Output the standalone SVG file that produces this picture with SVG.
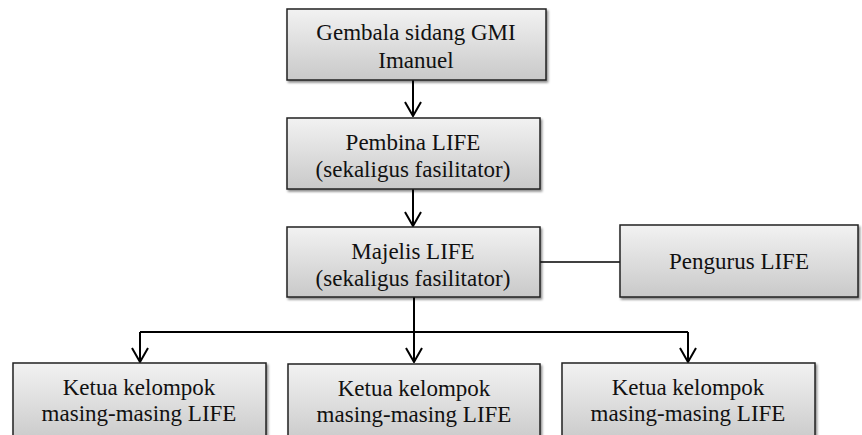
<svg xmlns="http://www.w3.org/2000/svg" width="862" height="435" viewBox="0 0 862 435">
<defs>
<linearGradient id="g" x1="0" y1="0" x2="0" y2="1">
<stop offset="0" stop-color="#f2f2f2"/>
<stop offset="1" stop-color="#c9c9c9"/>
</linearGradient>
<filter id="sh" x="-10%" y="-10%" width="120%" height="130%">
<feDropShadow dx="1.5" dy="2" stdDeviation="1.2" flood-color="#000" flood-opacity="0.45"/>
</filter>
<marker id="ah" viewBox="0 0 16 18" refX="15" refY="9" markerWidth="16" markerHeight="18" markerUnits="userSpaceOnUse" orient="auto">
<path d="M1 1 L15 9 L1 17" fill="none" stroke="#000" stroke-width="2"/>
</marker>
<style>
.box{fill:url(#g);stroke:#222;stroke-width:1.5;filter:url(#sh)}
.t{font-family:"Liberation Serif",serif;font-size:23px;fill:#111;text-anchor:middle}
.c{fill:none;stroke:#000;stroke-width:2}
</style>
</defs>
<rect width="862" height="435" fill="#fff"/>
<g id="connectors">
<path class="c" d="M413 80 V116" marker-end="url(#ah)"/>
<path class="c" d="M413 189 V226" marker-end="url(#ah)"/>
<path class="c" d="M540 262 H620" style="stroke-width:1.5"/>
<path class="c" d="M414 297 V362" marker-end="url(#ah)"/>
<path class="c" d="M140 332 H688"/>
<path class="c" d="M140 332 V362" marker-end="url(#ah)"/>
<path class="c" d="M688 332 V362" marker-end="url(#ah)"/>
</g>
<g id="gembala">
<rect class="box" x="287" y="9" width="259" height="71"/>
<text class="t" x="416" y="40">Gembala sidang GMI</text>
<text class="t" x="416" y="68">Imanuel</text>
</g>
<g id="pembina">
<rect class="box" x="287" y="118" width="253" height="71"/>
<text class="t" x="413" y="150">Pembina LIFE</text>
<text class="t" x="413" y="177">(sekaligus fasilitator)</text>
</g>
<g id="majelis">
<rect class="box" x="287" y="227" width="253" height="70"/>
<text class="t" x="413" y="259">Majelis LIFE</text>
<text class="t" x="413" y="286">(sekaligus fasilitator)</text>
</g>
<g id="pengurus">
<rect class="box" x="620" y="225" width="238" height="72"/>
<text class="t" x="739" y="269">Pengurus LIFE</text>
</g>
<g id="ketua1">
<rect class="box" x="13" y="363" width="253" height="80"/>
<text class="t" x="139" y="395">Ketua kelompok</text>
<text class="t" x="139" y="421">masing-masing LIFE</text>
</g>
<g id="ketua2">
<rect class="box" x="288" y="364" width="252" height="80"/>
<text class="t" x="414" y="396">Ketua kelompok</text>
<text class="t" x="414" y="422">masing-masing LIFE</text>
</g>
<g id="ketua3">
<rect class="box" x="562" y="363" width="253" height="80"/>
<text class="t" x="688" y="395">Ketua kelompok</text>
<text class="t" x="688" y="421">masing-masing LIFE</text>
</g>
</svg>
